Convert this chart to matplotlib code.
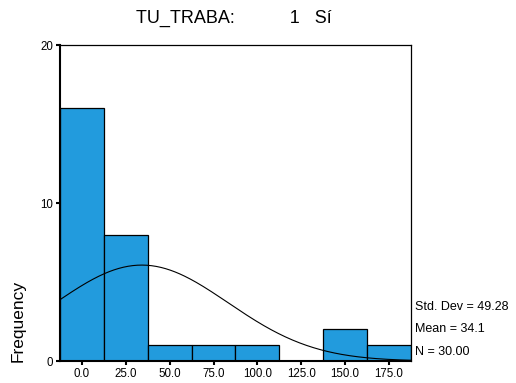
import numpy as np
import matplotlib.pyplot as plt

plt.rcParams['font.family'] = ['Liberation Sans', 'DejaVu Sans']

# histogram data (bin centres, counts)
bin_centers = [0, 25, 50, 75, 100, 125, 150, 175]
counts = [16, 8, 1, 1, 1, 0, 2, 1]
bin_width = 25
x_ticklabels = ["0.0", "25.0", "50.0", "75.0", "100.0", "125.0", "150.0", "175.0"]
y_ticks = [0, 10, 20]

std_dev = 49.28
mean = 34.1
n_total = 30

fig = plt.figure(figsize=(5.16, 3.83), dpi=100)
ax = fig.add_axes([0.1163, 0.0574, 0.680, 0.8251])

ax.bar(bin_centers, counts, width=bin_width, color="#229BDD",
       edgecolor="black", linewidth=0.9, zorder=2)

# normal curve
xs = np.linspace(-12.5, 187.5, 300)
ys = n_total * bin_width / (std_dev * np.sqrt(2 * np.pi)) * np.exp(-0.5 * ((xs - mean) / std_dev) ** 2)
ax.plot(xs, ys, color="black", linewidth=0.8, zorder=3)

ax.set_xlim(-12.5, 187.5)
ax.set_ylim(0, 20)
ax.set_xticks(bin_centers)
ax.set_xticklabels(x_ticklabels)
ax.set_yticks(y_ticks)
ax.tick_params(axis="both", labelsize=8.3, length=3, width=1.5, direction="out", pad=2)

for side in ["left", "bottom"]:
    ax.spines[side].set_linewidth(1.5)
for side in ["top", "right"]:
    ax.spines[side].set_linewidth(0.9)

fig.text(234 / 516, 1 - 18 / 383, "TU_TRABA:           1   Sí", ha="center", va="center", fontsize=13)
fig.text(18 / 516, 1 - 321 / 383, "Frequency", rotation=90, ha="center", va="center", fontsize=12.5)

stats = [f"Std. Dev = {std_dev:.2f}", f"Mean = {mean}", f"N = {n_total:.2f}"]
for i, s in enumerate(stats):
    fig.text(415 / 516, 1 - (307 + i * 22.5) / 383, s, ha="left", va="center", fontsize=9)

fig.savefig("out.png", dpi=100)
